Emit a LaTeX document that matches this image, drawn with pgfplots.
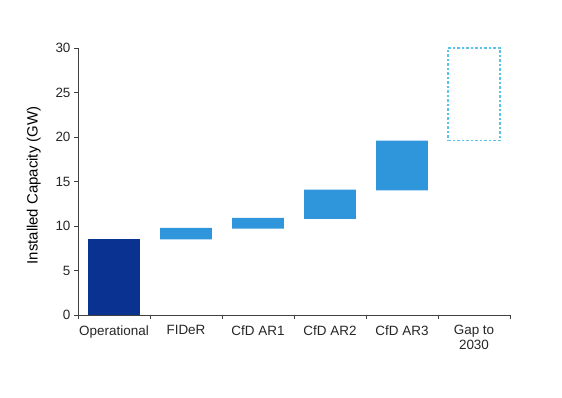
\documentclass[border=0pt]{standalone}
\usepackage{pgfplots}
\pgfplotsset{compat=1.18}
\usepackage{fontspec}
\setmainfont{Liberation Sans}
\definecolor{darkblue}{HTML}{0A3290}
\definecolor{midblue}{HTML}{2F96DC}
\definecolor{gapblue}{HTML}{5CC3EA}
\definecolor{axisgray}{HTML}{404040}
\definecolor{textgray}{HTML}{262626}
\pgfplotsset{common/.style={
  at={(0,0)}, anchor=south west,
  scale only axis, width=432bp, height=267bp,
  xmin=-0.5, xmax=5.5, ymin=0, ymax=30,
  ybar stacked, bar width=0.72, clip=false}}
\begin{document}
\begin{tikzpicture}
\path[use as bounding box] (-78bp,-83bp) rectangle (484bp,315bp);
\begin{axis}[
  common,
  axis lines=left, axis line style={-, axisgray, line width=0.8pt},
  xtick={0,1,2,3,4,5},
  xticklabels={Operational,FIDeR,CfD AR1,CfD AR2,CfD AR3,{Gap to\\2030}},
  major x tick style={draw=none},
  minor xtick={-0.5,0.5,1.5,2.5,3.5,4.5,5.5},
  minor x tick style={axisgray, line width=0.8pt},
  minor tick length=4bp,
  ytick={0,5,...,30},
  major tick length=4bp,
  y tick style={axisgray, line width=0.8pt},
  tick align=outside,
  xticklabel style={align=center, font=\fontsize{13.5}{15}\selectfont, text=textgray, yshift=-3bp},
  yticklabel style={font=\fontsize{13.5}{15}\selectfont, text=textgray},
  /pgf/number format/assume math mode=true,
  ylabel={Installed Capacity (GW)},
  ylabel style={font=\fontsize{15}{16}\selectfont, text=black, yshift=8bp, xshift=-4bp},
]
% invisible base
\addplot[fill=none, draw=none] coordinates {(0,0) (1,8.5) (2,9.7) (3,10.8) (4,14.0)};
% operational
\addplot[fill=darkblue, draw=none] coordinates {(0,8.5) (1,0) (2,0) (3,0) (4,0)};
% awarded
\addplot[fill=midblue, draw=none] coordinates {(0,0) (1,1.3) (2,1.2) (3,3.3) (4,5.6)};
\end{axis}
\begin{axis}[common, hide axis]
% gap: invisible base, then dashed outline
\addplot[fill=none, draw=none] coordinates {(5,19.6)};
\addplot[fill=white, draw=gapblue, dash pattern=on 2.5bp off 2bp, line width=1.3bp] coordinates {(5,10.4)};
\end{axis}
\end{tikzpicture}
\end{document}
